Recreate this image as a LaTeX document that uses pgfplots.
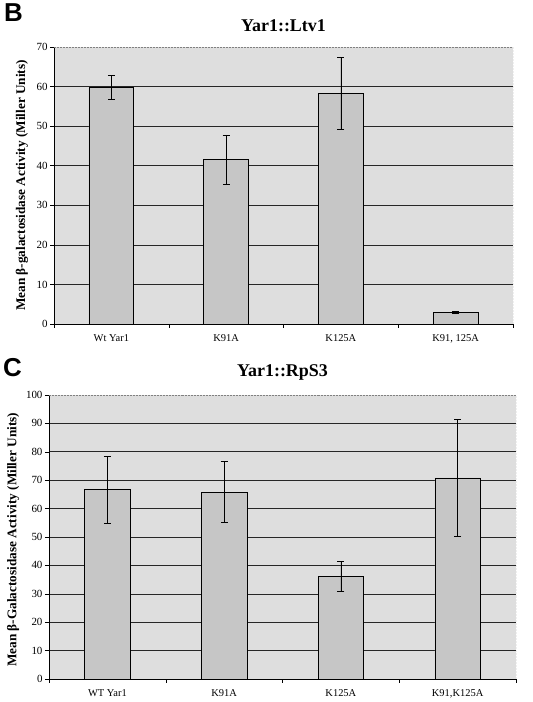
\documentclass[border=0pt]{standalone}
\usepackage{pgfplots}
\pgfplotsset{compat=1.18}
\usepackage{fontspec}
\setmainfont{Liberation Serif}
\newfontfamily\labfont{Liberation Sans}
\definecolor{bgc}{HTML}{DEDEDE}
\definecolor{barc}{HTML}{C6C6C6}
\pgfplotsset{
  panel/.style={
    scale only axis,
    xmin=-0.5, xmax=3.5, ymin=0,
    axis background/.style={fill=bgc},
    axis x line*=bottom, axis y line*=left,
    axis line style={black, line width=0.5pt},
    ymajorgrids, grid style={black!85, line width=0.6pt},
    tick align=outside,
    major tick length=4bp, minor tick length=4bp,
    xtick={0,1,2,3},
    minor xtick={-0.5,0.5,1.5,2.5,3.5},
    major x tick style={draw=none},
    minor x tick style={draw=black, line width=0.5pt},
    ytick style={draw=black, line width=0.5pt},
    /pgf/number format/assume math mode=true,
    yticklabel style={font=\fontsize{11}{12}\selectfont, xshift=1bp},
    xticklabel style={font=\fontsize{10.5}{12}\selectfont, yshift=-3bp},
    extra y tick style={grid=none},
    title style={font=\fontsize{18}{20}\selectfont\bfseries, anchor=base},
    ylabel style={font=\fontsize{13.3}{15}\selectfont\bfseries, anchor=center},
  },
  mybar/.style={ybar, bar width=0.39, fill=barc, draw=black, line width=0.6pt,
    error bars/.cd, y dir=both, y explicit,
    error bar style={black, line width=0.5pt},
    error mark options={rotate=90, mark size=3.5bp, black, line width=0.5pt}},
}
\begin{document}
\begin{tikzpicture}
\useasboundingbox (0bp,0bp) rectangle (533bp,702bp);
\node[anchor=base west, inner sep=0pt, font=\labfont\bfseries\fontsize{26}{28}\selectfont] at (4bp,680bp) {B};
\node[anchor=base west, inner sep=0pt, font=\labfont\bfseries\fontsize{26}{28}\selectfont] at (3bp,325bp) {C};
\begin{axis}[panel, at={(54bp,378bp)}, anchor=south west, width=459bp, height=277bp,
  ymax=70, ytick={0,10,...,60}, extra y ticks={70},
  xticklabels={Wt Yar1, K91A, K125A, {K91, 125A}},
  title={Yar1::Ltv1}, title style={at={(axis description cs:0.5,1)}, yshift=10bp},
  ylabel={Mean β-galactosidase Activity (Miller Units)},
  ylabel style={at={(axis description cs:-0.0697,0.5)}},
]
\addplot[mybar] coordinates {
  (0,59.8) +- (0,3.0)
  (1,41.6) +- (0,6.2)
  (2,58.3) +- (0,9.2)
  (3,3.0) +- (0,0.2)
};
\draw[densely dotted, gray, line width=0.5pt] (rel axis cs:0,1) -- (rel axis cs:1,1) -- (rel axis cs:1,0);
\end{axis}
\begin{axis}[panel, at={(49bp,23bp)}, anchor=south west, width=467bp, height=284bp,
  ymax=100, ytick={0,10,...,90}, extra y ticks={100},
  xticklabels={WT Yar1, K91A, K125A, {K91,K125A}},
  title={Yar1::RpS3}, title style={at={(axis description cs:0.5,1)}, yshift=13bp},
  ylabel={Mean β-Galactosidase Activity (Miller Units)},
  ylabel style={at={(axis description cs:-0.077,0.49)}},
]
\addplot[mybar] coordinates {
  (0,66.7) +- (0,11.7)
  (1,65.8) +- (0,10.7)
  (2,36.2) +- (0,5.2)
  (3,70.8) +- (0,20.7)
};
\draw[densely dotted, gray, line width=0.5pt] (rel axis cs:0,1) -- (rel axis cs:1,1) -- (rel axis cs:1,0);
\end{axis}
\end{tikzpicture}
\end{document}
